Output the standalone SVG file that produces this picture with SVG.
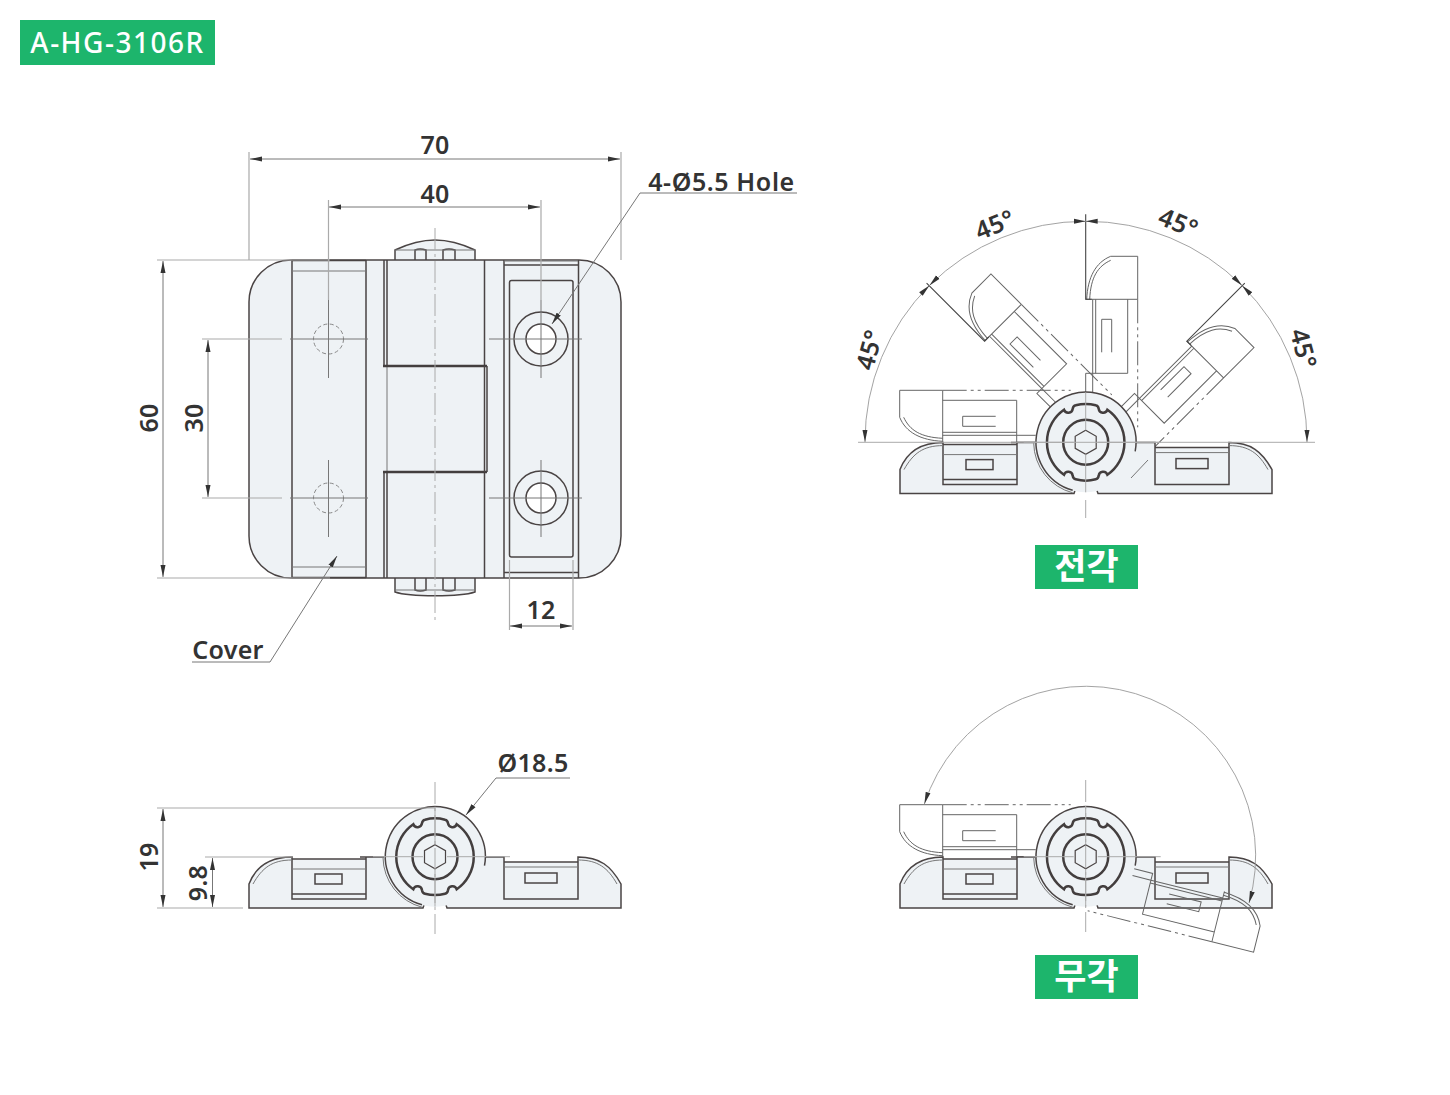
<svg xmlns="http://www.w3.org/2000/svg" xmlns:xlink="http://www.w3.org/1999/xlink" width="1450" height="1095" viewBox="0 0 1450 1095">
<style>
text{font-family:"Noto Sans","Liberation Sans",sans-serif;font-size:25px;font-weight:600;fill:#333;text-anchor:middle;letter-spacing:.3px}
.badge{font-family:"Noto Sans CJK KR","Noto Sans",sans-serif;fill:#fff;font-weight:700;font-size:35px;letter-spacing:0}
.tag{fill:#1db56c}
.fill{fill:#eef2f5}
.k{fill:none;stroke:#4a4444;stroke-width:1.5}
.kk{fill:none;stroke:#433e3e;stroke-width:2.5}
.t{fill:none;stroke:#777;stroke-width:1}
.l{fill:none;stroke:#aaa;stroke-width:1}
.x{fill:none;stroke:#aaa;stroke-width:1.2}
.c{fill:none;stroke:#aaa;stroke-width:1;stroke-dasharray:22 4 3 4}
.g{fill:none;stroke:#666;stroke-width:1}
.gd{fill:none;stroke:#666;stroke-width:1;stroke-dasharray:24 4 3 4 3 4}
.e{fill:none;stroke:#444;stroke-width:1.1}
.ar{fill:none;stroke:#999;stroke-width:.9;marker-start:url(#ah);marker-end:url(#ah)}
.dm{fill:none;stroke:#777;stroke-width:1;marker-start:url(#ah);marker-end:url(#ah)}
.ld{fill:none;stroke:#777;stroke-width:1;marker-end:url(#ah)}
</style>
<defs>
<marker id="ah" markerUnits="userSpaceOnUse" markerWidth="13" markerHeight="6" refX="12" refY="3" orient="auto-start-reverse"><path d="M0 .5L12 3L0 5.500Z" fill="#333"/></marker>
<g id="knuckle">
<circle r="50" class="fill"/>
<path d="M49.500 9A50 50 0 1 0 -13 48" class="k"/>
<path d="M-52 1A52 52 0 0 0 -13 50.500" class="t"/>
<path d="M10 -37A38 38 0 0 0 -10 -37Q-12.500 -36.500 -13 -33.500A4.500 4.500 0 0 1 -21.700 -32.500A39.500 39.500 0 0 0 -21.700 32.500A4.500 4.500 0 0 1 -13 33.500Q-12.500 36.500 -10 37A38 38 0 0 0 10 37Q12.500 36.500 13 33.500A4.500 4.500 0 0 1 21.700 32.500A39.500 39.500 0 0 0 21.700 -32.500A4.500 4.500 0 0 1 13 -33.500Q12.500 -36.500 10 -37Z" class="kk"/>
<circle r="22.500" class="kk"/>
<path d="M0 -12L10.500 -6V6L0 12L-10.500 6V-6Z" class="k" style="stroke-width:1.2"/>
<path d="M-62 0H-12M12 0H75M0 -50V-12M0 12V50" class="l"/>
</g>
<g id="base">
<path class="fill" d="M249 908V884C256 866 270 857 292 857V859H366V857H504V862H578V857C600 857 611 866 621 884V908H447L445 902H425L423 908Z"/>
<path class="k" d="M360 857H384M485 857H504V899H578V857C600 857 611 866 621 884V908H447L445 902H425L423 908H249V884C256 866 270 857 292 857V899H366V857"/>
<path class="k" d="M292 859H366M292 894H366M504 862H578"/>
<path class="t" d="M292 869H366M504 867H578M253 884C262 868 272 860 292 860M578 860C598 860 608 868 617 884"/>
<rect x="315" y="874" width="27" height="10" class="k"/>
<rect x="525" y="873" width="32" height="10" class="k"/>
</g>
<g id="ghost">
<path class="g" d="M-143 -52H-186V-25C-180 -10 -165 -2 -143 -1M-182 -25C-176 -12 -165 -5 -143 -4M-143 -52V0M-143 -42H-69V0H-50M-143 -10H-69M-143 -7H-69M-69 -7H-50"/>
<path class="gd" d="M-143 -52H-15"/>
<path class="g" d="M-90 -26H-123V-16H-90"/>
</g>
</defs>

<g id="title"><rect class="tag" x="20" y="20" width="195" height="45"/><text x="117.500" y="53" style="font-size:28px;font-weight:500;fill:#fff;letter-spacing:1.5px">A-HG-3106R</text></g>

<g id="front-view">
<rect class="fill" x="249" y="260" width="372" height="318" rx="42"/>
<path class="fill" d="M395 260V250C410 243 425 240 435 240C445 240 460 243 475 250V260Z"/>
<path class="fill" d="M395 578V592C410 596 460 596 475 592V578Z"/>
<path class="k" d="M395 260V250C410 243 425 240 435 240C445 240 460 243 475 250V260M395 578V592C410 597 460 597 475 592V578"/>
<path class="k" d="M415 260V250Q420 248 426 250V260M443 260V250Q449 248 455 250V260M415 578V590Q420 592 426 590V578M443 578V590Q449 592 455 590V578"/>
<path class="t" d="M395 250H475M395 590H475"/>
<rect class="k" x="249" y="260" width="372" height="318" rx="42"/>
<path class="k" d="M292 260V578M366 260V578M292 260.500H366M292 577.500H366M384 260V366M387 260V366M384 472V578M387 472V578M484.500 260V366M484.500 472V578M504 260V578M578.500 260V578M504 265H578M504 572.500H578"/>
<path class="t" d="M292 271H366M292 567H366M387 366V472M504 261H578"/>
<path class="kk" d="M383 366H487M383 472H487"/>
<path class="k" d="M484.500 366V472M487 366V472"/>
<rect class="k" x="509.500" y="280.500" width="63.500" height="276.500" rx="2"/>
<circle class="k" cx="541" cy="339" r="27"/><circle cx="541" cy="339" r="15" fill="#fff" stroke="#4a4444" stroke-width="1.5"/>
<circle class="k" cx="541" cy="498" r="27"/><circle cx="541" cy="498" r="15" fill="#fff" stroke="#4a4444" stroke-width="1.5"/>
<circle cx="328.500" cy="339" r="15" fill="none" stroke="#888" stroke-width="1" stroke-dasharray="4 2.500"/>
<circle cx="328.500" cy="498" r="15" fill="none" stroke="#888" stroke-width="1" stroke-dasharray="4 2.500"/>
<path class="c" d="M435 228V620"/>
<path class="t" d="M489 339H582M489 498H582M541 300V378M541 460V537M290 339H368M290 498H368M328.500 300V378M328.500 460V537"/>
</g>

<g id="front-dims" fill="none">
<path class="x" d="M249 152V260M621 152V260M328.500 200V300M541 200V300M157 260H330M157 578H330M202 339H282M202 498H282M509.500 560V630M573 560V630"/>
<path class="dm" d="M250 159H620"/><path class="dm" d="M329 207H540"/>
<path class="dm" d="M163 261V577"/><path class="dm" d="M208 340V497"/>
<path class="dm" d="M510 626H572"/>
<path class="ld" d="M797 193H640L552 324"/><path class="ld" d="M192 662H270L337 556"/>
<text x="435" y="154">70</text><text x="435" y="203">40</text><text x="541" y="619">12</text>
<text transform="translate(158 418) rotate(-90)">60</text><text transform="translate(203 418) rotate(-90)">30</text>
<text x="721.500" y="191" style="letter-spacing:.6px">4-Ø5.5 Hole</text><text x="228" y="659">Cover</text>
</g>

<g id="side-view">
<use xlink:href="#base" href="#base"/>
<use xlink:href="#knuckle" href="#knuckle" x="435" y="856.700"/>
<path class="c" d="M435 782V934"/>
<path class="x" d="M157 808H435M157 908H243M205 857H292"/>
<path class="dm" d="M163 809V907"/><path class="dm" d="M212.500 858V907"/>
<path class="ld" d="M570 778H496L466 815"/>
<text x="533" y="772">Ø18.5</text>
<text transform="translate(158 857) rotate(-90)">19</text><text transform="translate(207 883) rotate(-90)">9.8</text>
</g>

<g id="full-angle-view">
<g transform="translate(1085.700 442.300)">
<use xlink:href="#ghost" href="#ghost"/>
<g transform="rotate(45)"><use xlink:href="#ghost" href="#ghost"/><path class="e" d="M-225 0H-143V-6"/></g>
<g transform="rotate(90)"><use xlink:href="#ghost" href="#ghost"/><path class="e" d="M-228 0H-143V-6"/></g>
<g transform="rotate(135)"><use xlink:href="#ghost" href="#ghost"/><path class="e" d="M-225 0H-143V-6"/></g>
</g>
<use xlink:href="#base" href="#base" x="651" y="-414.400"/>
<use xlink:href="#knuckle" href="#knuckle" x="1085.700" y="442.300"/>
<path class="l" d="M858 442.300H1315"/>
<path class="c" d="M1085.700 500V518"/>
<path class="t" d="M1131 478L1148 460"/>
<path class="ar" d="M865 442A221 221 0 0 1 929.400 285.500"/>
<path class="ar" d="M929.400 285.500A221 221 0 0 1 1085.700 221.300"/>
<path class="ar" d="M1085.700 221.300A221 221 0 0 1 1242 285.500"/>
<path class="ar" d="M1242 285.500A221 221 0 0 1 1307 442"/>
<text transform="translate(878 352) rotate(-75)">45°</text>
<text transform="translate(998 233) rotate(-22)">45°</text>
<text transform="translate(1175 231) rotate(22)">45°</text>
<text transform="translate(1295 351) rotate(75)">45°</text>
<rect class="tag" x="1035" y="545" width="103" height="44"/><text class="badge" x="1086.500" y="579">전각</text>
</g>

<g id="no-angle-view">
<g transform="translate(1085.700 856.700)"><use xlink:href="#ghost" href="#ghost"/></g>
<use xlink:href="#base" href="#base" x="651"/>
<use xlink:href="#knuckle" href="#knuckle" x="1085.700" y="856.700"/>
<g transform="translate(1085.700 856.700) rotate(194)"><use xlink:href="#ghost" href="#ghost"/></g>
<path class="c" d="M1085.700 780V932"/>
<path class="ar" d="M924.400 804A169.700 169.700 0 0 1 1249 903"/>
<rect class="tag" x="1035" y="955" width="103" height="44"/><text class="badge" x="1086.500" y="989">무각</text>
</g>
</svg>
